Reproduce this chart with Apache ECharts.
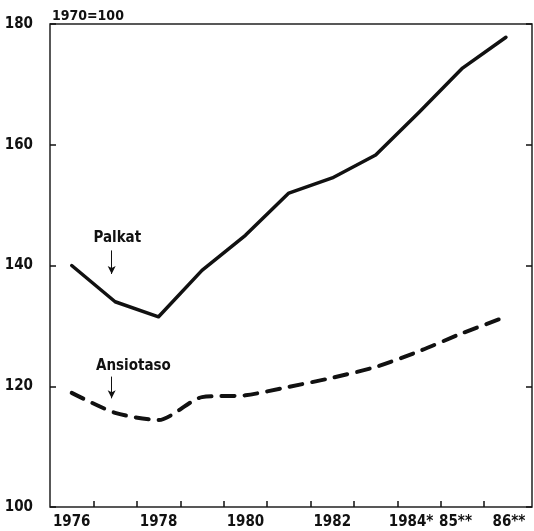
<!DOCTYPE html>
<html>
<head>
<meta charset="utf-8">
<script src="https://cdn.jsdelivr.net/npm/echarts@6/dist/echarts.min.js"></script>
<style>
    html, body { margin: 0; padding: 0; background: #fff; }
    #chart { width: 534px; height: 531px; }
</style>
</head>
<body>
<div id="chart"></div>
<script>
    // index 1970 = 100
    var years = [1976, 1977, 1978, 1979, 1980, 1981, 1982, 1983, 1984, 1985, 1986];
    var palkat = [140, 134, 131.5, 139.2, 145, 152, 154.5, 158.3, 165.4, 172.7, 177.8];
    var ansiotaso = [118.9, 115.6, 114.4, 118.2, 118.5, 119.9, 121.4, 123.2, 125.8, 128.8, 131.5];
    var xLabelYears = [1976, 1978, 1980, 1982, 1984, 1985, 1986];
    var xLabelText = ['1976', '1978', '1980', '1982', '1984*', '85**', '86**'];
    var xTickYears = [1976.5, 1977.5, 1978.5, 1979.5, 1980.5, 1981.5, 1982.5, 1983.5, 1984.5, 1985.5];

    var font = '"Liberation Sans Narrow", "DejaVu Sans Condensed", sans-serif';
    var ink = '#111';

    var pair = function (xs, ys) {
        return xs.map(function (x, i) { return [x, ys[i]]; });
    };

    var txt = function (extra) {
        var s = { fontFamily: font, fontWeight: 'bold', fontSize: 15, color: ink };
        for (var k in extra) s[k] = extra[k];
        return s;
    };

    var tickStyle = { show: true, inside: true, length: 6, lineStyle: { color: ink, width: 1.5 } };

    var option = {
        animation: false,
        backgroundColor: '#fff',
        title: {
            text: '1970=100',
            left: 47,
            top: 4,
            textStyle: txt({ fontSize: 14 })
        },
        grid: {
            left: 50,
            right: 2,
            top: 24,
            bottom: 24,
            show: true,
            borderColor: '#222',
            borderWidth: 1.5
        },
        xAxis: {
            type: 'value',
            min: 1975.5,
            max: 1986.6,
            splitLine: { show: false },
            axisLine: { show: false },
            axisTick: {
                show: true,
                inside: true,
                length: 6,
                customValues: xTickYears,
                lineStyle: { color: ink, width: 1.5 }
            },
            axisLabel: txt({
                customValues: xLabelYears,
                margin: 8,
                formatter: function (val) {
                    var i = xLabelYears.indexOf(Math.round(val));
                    var t = i < 0 ? '' : xLabelText[i];
                    if (i === 4) return '{a|' + t + '}';
                    if (i === 5) return '{b|' + t + '}';
                    if (i === 6) return '{c|' + t + '}';
                    return t;
                },
                rich: {
                    a: txt({ padding: [0, 16, 0, 0] }),
                    b: txt({ padding: [0, 14, 0, 0] }),
                    c: txt({ padding: [0, 0, 0, 6] })
                }
            })
        },
        yAxis: [
            {
                type: 'value',
                min: 100,
                max: 180,
                interval: 20,
                position: 'left',
                splitLine: { show: false },
                axisLine: { show: false },
                axisTick: tickStyle,
                axisLabel: txt({ margin: 17 })
            },
            {
                type: 'value',
                min: 100,
                max: 180,
                interval: 20,
                position: 'right',
                splitLine: { show: false },
                axisLine: { show: false },
                axisTick: tickStyle,
                axisLabel: { show: false }
            }
        ],
        series: [
            {
                name: 'Palkat',
                type: 'line',
                data: pair(years, palkat),
                showSymbol: false,
                lineStyle: { color: ink, width: 3.5, cap: 'round', join: 'round' },
                markPoint: {
                    symbol: 'circle',
                    symbolSize: 0,
                    label: txt({ show: true, formatter: 'Palkat' }),
                    data: [{ coord: [1977.05, 144.5] }]
                },
                markLine: {
                    silent: true,
                    symbol: ['none', 'arrow'],
                    symbolSize: [6, 8],
                    label: { show: false },
                    lineStyle: { color: ink, width: 1, type: 'solid' },
                    data: [[{ coord: [1976.92, 142.5] }, { coord: [1976.92, 138.6] }]]
                }
            },
            {
                name: 'Ansiotaso',
                type: 'line',
                data: pair(years, ansiotaso),
                showSymbol: false,
                smooth: 0.25,
                lineStyle: { color: ink, width: 4, type: [13, 10], cap: 'round', join: 'round' },
                markPoint: {
                    symbol: 'circle',
                    symbolSize: 0,
                    label: txt({ show: true, formatter: 'Ansiotaso' }),
                    data: [{ coord: [1977.42, 123.4] }]
                },
                markLine: {
                    silent: true,
                    symbol: ['none', 'arrow'],
                    symbolSize: [6, 8],
                    label: { show: false },
                    lineStyle: { color: ink, width: 1, type: 'solid' },
                    data: [[{ coord: [1976.92, 121.6] }, { coord: [1976.92, 118] }]]
                }
            }
        ]
    };

    var chart = echarts.init(document.getElementById('chart'));
    chart.setOption(option);
</script>
</body>
</html>
